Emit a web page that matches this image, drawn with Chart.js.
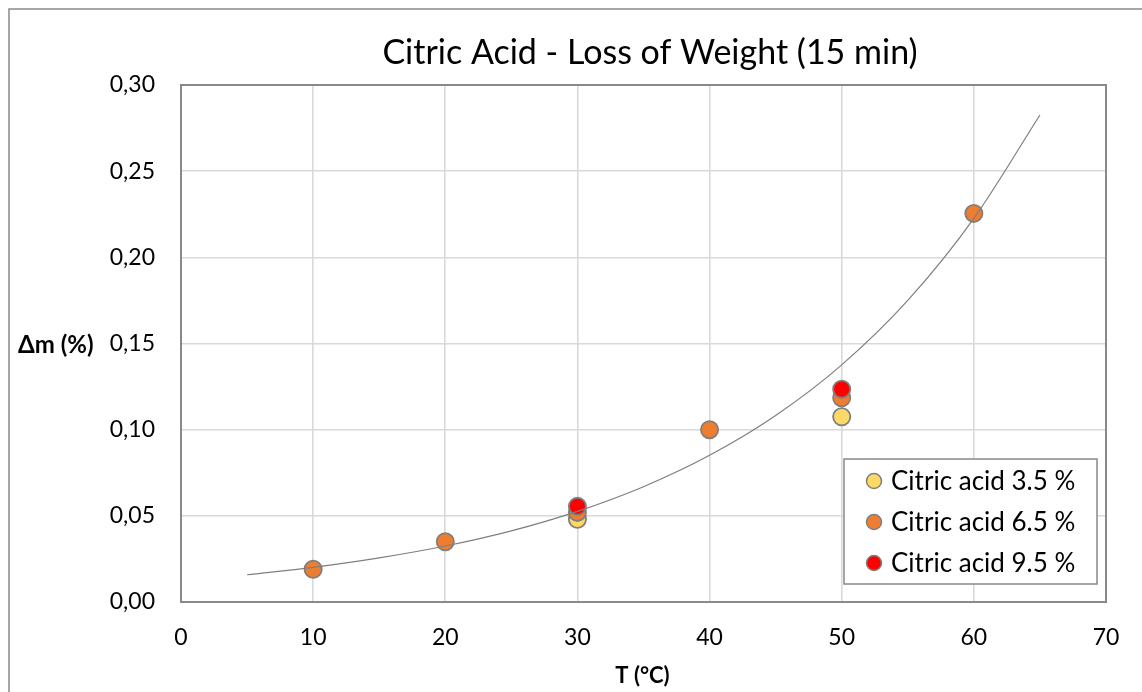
<!DOCTYPE html>
<html>
<head>
<meta charset="utf-8">
<script src="https://cdn.jsdelivr.net/npm/chart.js@4.4.1/dist/chart.umd.min.js"></script>
<style>
  html, body { margin: 0; padding: 0; background: #fff; overflow: hidden; }
  #wrap { position: relative; width: 1142px; height: 692px; }
  canvas { display: block; }
</style>
</head>
<body>
<div id="wrap"><canvas id="c" width="1142" height="692"></canvas></div>
<script>
// Text
const chartTitle = 'Citric Acid - Loss of Weight (15 min)';
const xAxisTitle = 'T (°C)';
const yAxisTitle = 'Δm (%)';
const seriesNames = ['Citric acid 3.5 %', 'Citric acid 6.5 %', 'Citric acid 9.5 %'];

// Measured loss of weight, Δm (%), against temperature T (°C)
const temp35 = [30, 50];
const loss35 = [0.048, 0.1075];
const temp65 = [10, 20, 30, 40, 50, 60];
const loss65 = [0.019, 0.035, 0.052, 0.100, 0.1185, 0.2255];
const temp95 = [30, 50];
const loss95 = [0.0555, 0.1235];

// Exponential trend line, sampled every 5 °C
const trendT = [5, 10, 15, 20, 25, 30, 35, 40, 45, 50, 55, 60, 65];
const trendM = [0.0158, 0.0201, 0.0256, 0.0325, 0.0413, 0.0526, 0.0669, 0.0851, 0.1082, 0.1376, 0.1750, 0.2226, 0.2826];

// Axis ticks
const xTicks = [0, 10, 20, 30, 40, 50, 60, 70];
const yTicks = [0, 0.05, 0.10, 0.15, 0.20, 0.25, 0.30];

const seriesColors = ['#FFD966', '#ED7D31', '#FF0000'];
const markerEdge = '#7F7F7F';
const frameColor = '#898989';

const toPoints = (xs, ys) => xs.map((x, i) => ({ x: x, y: ys[i] }));

Chart.defaults.font.family = 'Lato';
Chart.defaults.color = '#000';

const scatterSet = (i, xs, ys, order) => ({
  type: 'scatter',
  label: seriesNames[i],
  data: toPoints(xs, ys),
  backgroundColor: seriesColors[i],
  borderColor: markerEdge,
  borderWidth: 1.8,
  pointRadius: 8.6,
  pointHoverRadius: 8.6,
  order: order
});

// Plot frame drawn above the grid, below the marks
const plotFrame = {
  id: 'plotFrame',
  beforeDatasetsDraw(chart) {
    const a = chart.chartArea, ctx = chart.ctx;
    ctx.save();
    ctx.strokeStyle = frameColor;
    ctx.lineWidth = 2;
    ctx.strokeRect(a.left, a.top, a.right - a.left, a.bottom - a.top);
    ctx.restore();
  }
};

// Title, axis titles, legend box and outer border
const decorations = {
  id: 'decorations',
  afterDraw(chart) {
    const a = chart.chartArea, ctx = chart.ctx;
    ctx.save();

    // outer chart border
    ctx.strokeStyle = frameColor;
    ctx.lineWidth = 1.5;
    ctx.strokeRect(9, 9, 1200, 800);

    // chart title
    ctx.fillStyle = '#000';
    ctx.font = '34px Lato';
    ctx.textAlign = 'center';
    ctx.textBaseline = 'alphabetic';
    ctx.fillText(chartTitle, 650, 64);

    // axis titles
    ctx.font = 'bold 24px Lato';
    ctx.textAlign = 'left';
    ctx.fillText(yAxisTitle, 18, 353);
    ctx.font = 'bold 22px Lato';
    ctx.textAlign = 'center';
    ctx.fillText(xAxisTitle, 642.5, 683);

    // legend
    const lx = a.right - 262, ly = a.bottom - 143, lw = 253, lh = 125;
    ctx.fillStyle = '#fff';
    ctx.fillRect(lx, ly, lw, lh);
    ctx.strokeStyle = frameColor;
    ctx.lineWidth = 1.5;
    ctx.strokeRect(lx, ly, lw, lh);
    ctx.font = '26px Lato';
    ctx.textAlign = 'left';
    ctx.textBaseline = 'middle';
    seriesNames.forEach((name, i) => {
      const cy = ly + 22 + i * 41;
      ctx.beginPath();
      ctx.arc(lx + 30, cy, 7.5, 0, Math.PI * 2);
      ctx.fillStyle = seriesColors[i];
      ctx.fill();
      ctx.strokeStyle = markerEdge;
      ctx.lineWidth = 1.5;
      ctx.stroke();
      ctx.fillStyle = '#000';
      ctx.fillText(name, lx + 47, cy + 1);
    });
    ctx.restore();
  }
};

new Chart(document.getElementById('c'), {
  type: 'scatter',
  data: {
    datasets: [
      scatterSet(0, temp35, loss35, 3),
      scatterSet(1, temp65, loss65, 2),
      scatterSet(2, temp95, loss95, 1),
      {
        type: 'line',
        label: 'trend',
        data: toPoints(trendT, trendM),
        borderColor: '#7F7F7F',
        borderWidth: 1.2,
        pointRadius: 0,
        pointHoverRadius: 0,
        fill: false,
        cubicInterpolationMode: 'monotone',
        order: 0
      }
    ]
  },
  options: {
    responsive: false,
    animation: false,
    events: [],
    layout: { padding: { left: 0, top: 85, right: 36, bottom: 0 } },
    plugins: {
      legend: { display: false },
      title: { display: false },
      tooltip: { enabled: false }
    },
    scales: {
      x: {
        type: 'linear',
        min: xTicks[0],
        max: xTicks[xTicks.length - 1],
        afterBuildTicks(scale) { scale.ticks = xTicks.map(v => ({ value: v })); },
        afterFit(scale) { scale.height = 90; },
        grid: { color: '#D9D9D9', lineWidth: 1.6, drawTicks: false },
        border: { display: false },
        ticks: { font: { size: 23 }, padding: 22, color: '#000' }
      },
      y: {
        type: 'linear',
        min: yTicks[0],
        max: yTicks[yTicks.length - 1],
        afterBuildTicks(scale) { scale.ticks = yTicks.map(v => ({ value: v })); },
        afterFit(scale) { scale.width = 181; },
        grid: { color: '#D9D9D9', lineWidth: 1.6, drawTicks: false },
        border: { display: false },
        ticks: {
          font: { size: 23 },
          padding: 26,
          color: '#000',
          callback: v => v.toFixed(2).replace('.', ',')
        }
      }
    }
  },
  plugins: [plotFrame, decorations]
});
</script>
</body>
</html>
